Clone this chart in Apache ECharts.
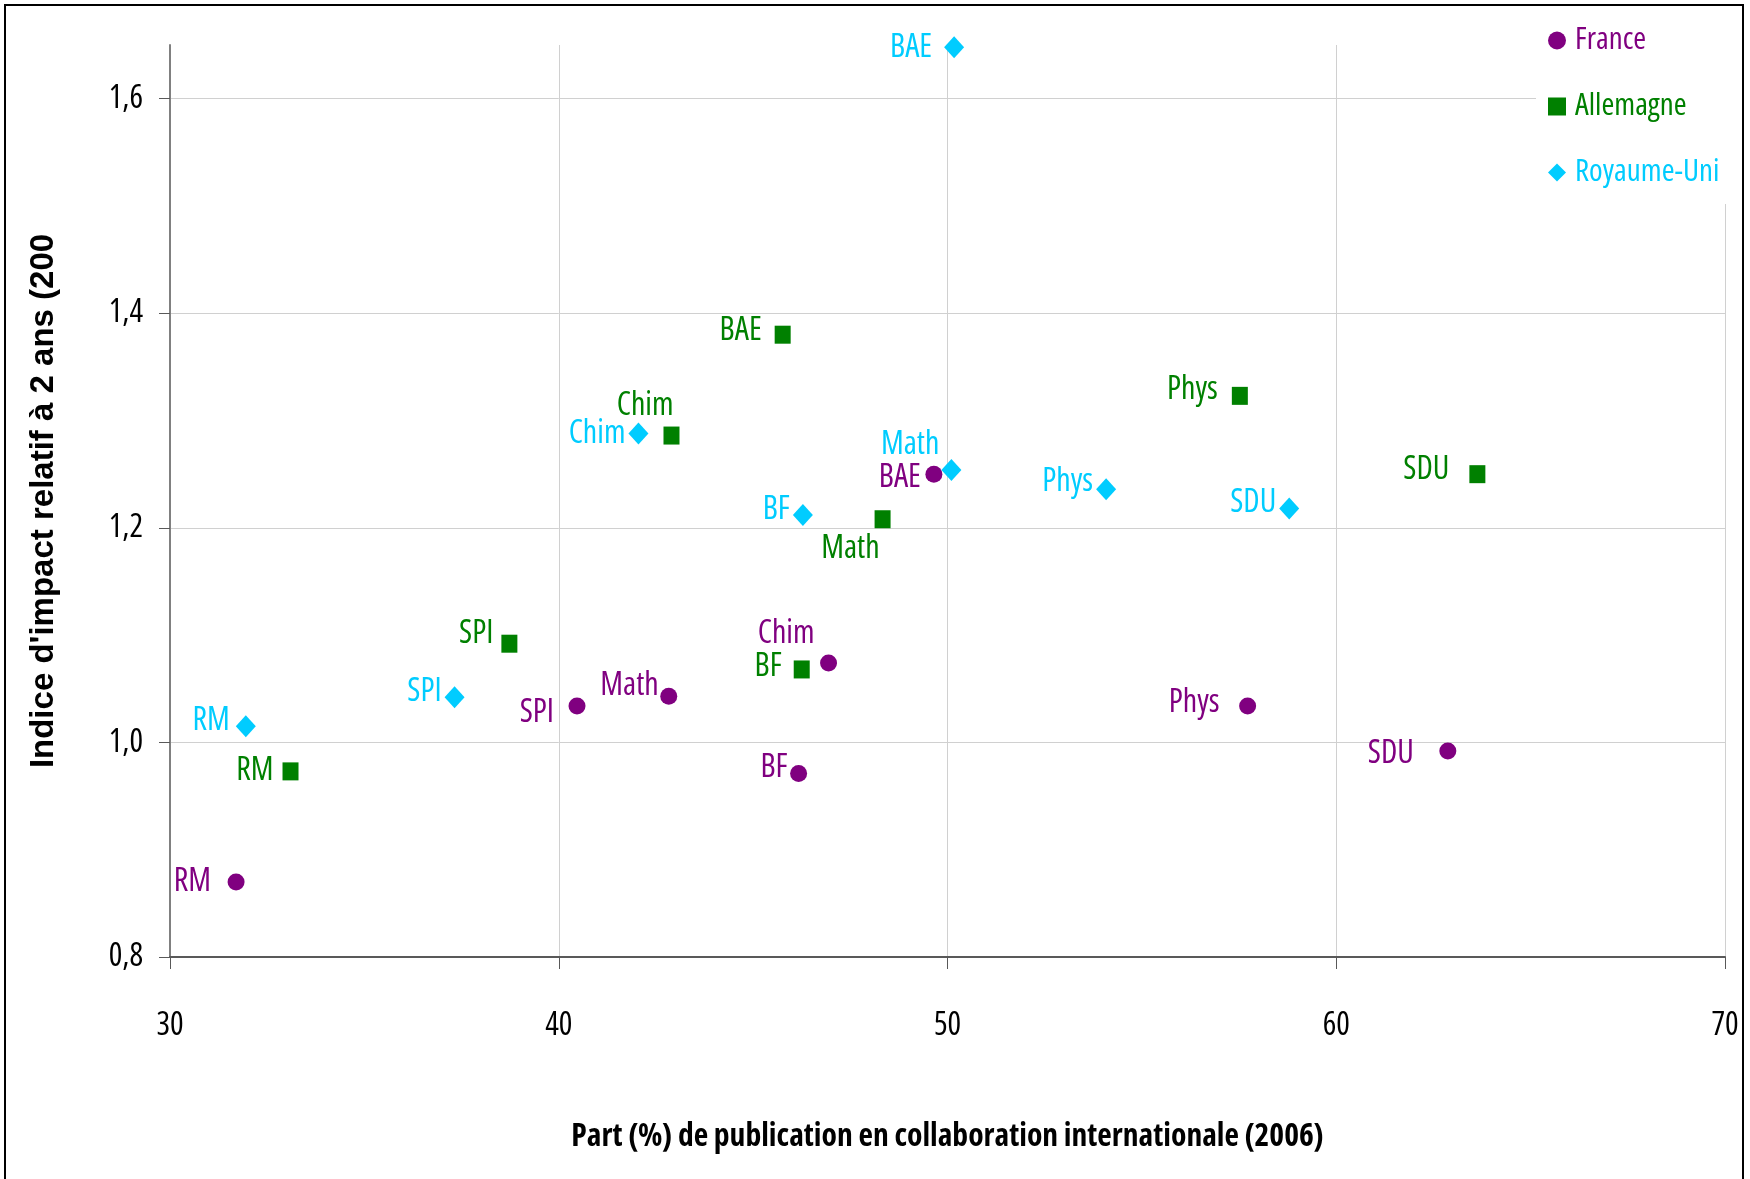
<!DOCTYPE html>
<html>
<head>
<meta charset="utf-8">
<script src="https://cdn.jsdelivr.net/npm/echarts@6/dist/echarts.min.js"></script>
<style>
  html, body { margin: 0; padding: 0; background: #fff; }
  #chart { width: 1750px; height: 1179px; }
</style>
</head>
<body>
<div id="chart"></div>
<script>
  // disciplines, meme ordre pour les trois pays
  var names = ['RM', 'SPI', 'Math', 'BF', 'Chim', 'BAE', 'Phys', 'SDU'];

  var franceX = [31.70, 40.47, 42.83, 46.17, 46.94, 49.65, 57.72, 62.87];
  var franceY = [0.870, 1.034, 1.043, 0.971, 1.074, 1.250, 1.034, 0.992];

  var allemagneX = [33.10, 38.73, 48.33, 46.25, 42.90, 45.76, 57.52, 63.63];
  var allemagneY = [0.973, 1.092, 1.208, 1.068, 1.286, 1.380, 1.323, 1.250];

  var ukX = [31.95, 37.32, 50.10, 46.28, 42.05, 50.17, 54.08, 58.79];
  var ukY = [1.015, 1.042, 1.254, 1.212, 1.288, 1.648, 1.236, 1.218];

  var yTicks = [0.8, 1.0, 1.2, 1.4, 1.6];

  // placement des etiquettes (bord droit du texte / centre du point), en px
  var franceLbl = [[-25, 0], [-23, 7], [-10, -10], [-11, -6], [-14, -29], [-13, 4], [-28, -3], [-34, 3]];
  var allemagneLbl = [[-17, 0], [-16, -10], [-3, 30], [-20, -3], [2, -30], [-21, -4], [-22, -6], [-28, -4]];
  var ukLbl = [[-16, -5], [-13, -5], [-12, -25], [-13, -5], [-13, 0], [-22, 1], [-13, -7], [-13, -6]];

  // texte etroit : Open Sans en largeur "condensed" (passe par fontStyle)
  var FONT = "'Open Sans', 'Roboto Condensed', sans-serif";
  var NARROW = 'condensed';

  function buildData(xs, ys, lbl) {
    return xs.map(function (x, i) {
      return {
        name: names[i],
        value: [x, ys[i]],
        label: { offset: lbl[i] }
      };
    });
  }

  function serie(name, color, symbol, size, xs, ys, lbl) {
    return {
      name: name,
      type: 'scatter',
      symbol: symbol,
      symbolSize: size,
      itemStyle: { color: color, opacity: 1 },
      label: {
        show: true,
        position: 'inside',
        align: 'right',
        verticalAlign: 'middle',
        formatter: '{b}',
        color: color,
        fontFamily: FONT,
        fontStyle: NARROW,
        fontSize: 32
      },
      emphasis: { disabled: true },
      data: buildData(xs, ys, lbl)
    };
  }

  var myChart = echarts.init(document.getElementById('chart'));

  var option = {
    backgroundColor: '#fff',
    animation: false,
    grid: { left: 170, right: 25, top: 45, bottom: 222 },
    graphic: [{
      type: 'rect',
      shape: { x: 5, y: 5, width: 1738, height: 1200 },
      style: { fill: null, stroke: '#000', lineWidth: 2 },
      z: 100
    }],
    legend: {
      orient: 'vertical',
      left: 1536,
      top: 9,
      padding: [16, 10, 16, 12],
      itemGap: 35,
      itemWidth: 18,
      itemHeight: 18,
      backgroundColor: '#fff',
      textStyle: { fontFamily: FONT, fontStyle: NARROW, fontSize: 31, padding: [0, 0, 0, 4] },
      data: [
        { name: 'France', textStyle: { color: '#800080' } },
        { name: 'Allemagne', textStyle: { color: '#008000' } },
        { name: 'Royaume-Uni', textStyle: { color: '#00CCFF' } }
      ],
      z: 50
    },
    xAxis: {
      type: 'value',
      min: 30,
      max: 70,
      interval: 10,
      name: 'Part (%) de publication en collaboration internationale (2006)',
      nameLocation: 'middle',
      nameGap: 180,
      nameTextStyle: {
        fontFamily: FONT, fontStyle: NARROW, fontSize: 31.6, fontWeight: 'bold', color: '#000',
        verticalAlign: 'middle'
      },
      axisLine: { show: true, lineStyle: { color: '#595959', width: 2 } },
      axisTick: { show: true, length: 12, lineStyle: { color: '#595959', width: 1 } },
      axisLabel: { margin: 53, color: '#000', fontFamily: FONT, fontStyle: NARROW, fontSize: 32 },
      splitLine: { show: true, lineStyle: { color: '#d0d0d0', width: 1 } }
    },
    yAxis: {
      type: 'value',
      min: 0.8,
      max: 1.65,
      interval: 0.2,
      name: "Indice d'impact relatif à 2 ans (200",
      nameLocation: 'middle',
      nameRotate: 90,
      nameGap: 126,
      nameTextStyle: {
        fontFamily: "'Liberation Sans', Arial, sans-serif", fontSize: 33, fontWeight: 'bold', color: '#000',
        verticalAlign: 'middle'
      },
      axisLine: { show: true, lineStyle: { color: '#808080', width: 2 } },
      axisTick: { show: true, length: 11, lineStyle: { color: '#595959', width: 1 }, customValues: yTicks },
      axisLabel: {
        margin: 27, color: '#000', fontFamily: FONT, fontStyle: NARROW, fontSize: 32,
        customValues: yTicks,
        formatter: function (v) { return v.toFixed(1).replace('.', ','); }
      },
      splitLine: { show: true, lineStyle: { color: '#d0d0d0', width: 1 } }
    },
    series: [
      serie('France', '#800080', 'circle', 17, franceX, franceY, franceLbl),
      serie('Allemagne', '#008000', 'rect', [16, 18], allemagneX, allemagneY, allemagneLbl),
      serie('Royaume-Uni', '#00CCFF', 'diamond', [20, 22], ukX, ukY, ukLbl)
    ]
  };

  myChart.setOption(option);
</script>
</body>
</html>
